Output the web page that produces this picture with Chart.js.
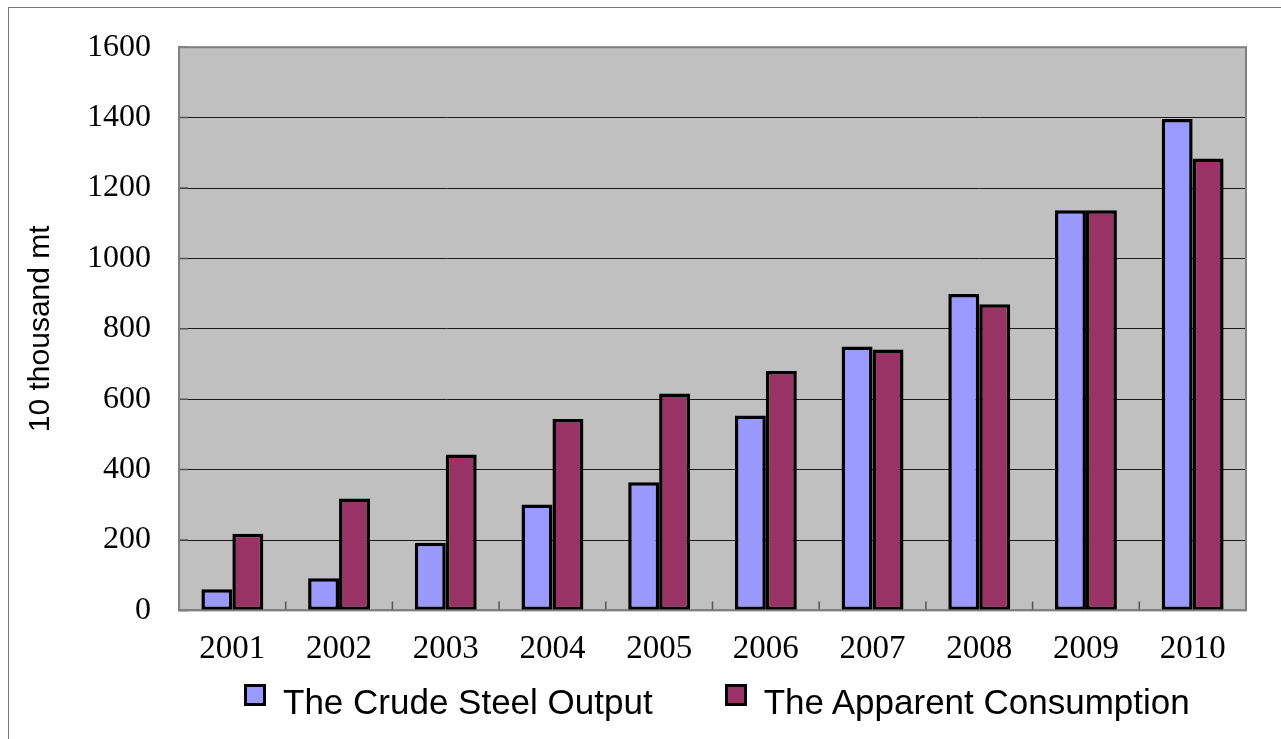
<!DOCTYPE html>
<html>
<head>
<meta charset="utf-8">
<script src="https://cdn.jsdelivr.net/npm/chart.js@4/dist/chart.umd.min.js"></script>
<style>
  body { margin: 0; background: #fff; }
  #wrap { position: relative; width: 1281px; height: 739px; overflow: hidden; }
  #frame { position: absolute; left: 8px; top: 7px; width: 1400px; height: 800px;
           border-left: 1px solid #777; border-top: 1px solid #777; }
  #legend { position: absolute; left: 244px; top: 684px; display: flex;
            font-family: 'Liberation Sans', Arial, sans-serif; font-size: 35px; line-height: 35px; color: #000; }
  .item { display: flex; align-items: flex-start; margin-right: 72px; }
  .box { width: 16px; height: 16px; border: 3px solid #000; margin-right: 17px; margin-top: 0px; }
</style>
</head>
<body>
<div id="wrap">
  <div id="frame"></div>
  <canvas id="steelChart" width="1281" height="739"></canvas>
  <div id="legend"></div>
</div>
<script>
// years on the x axis
const years = ['2001', '2002', '2003', '2004', '2005', '2006', '2007', '2008', '2009', '2010'];

// values in 10 thousand mt
const crudeSteelOutput = [60, 91, 192, 301, 364, 554, 750, 899, 1137, 1396];
const apparentConsumption = [218, 318, 443, 544, 616, 680, 741, 870, 1137, 1284];

const yTicks = [0, 200, 400, 600, 800, 1000, 1200, 1400, 1600];

const serifFont = "'Liberation Serif', 'Times New Roman', serif";
const sansFont = "'Liberation Sans', Arial, sans-serif";

// grey plot background, frame and the small inward tick marks
const plotFrame = {
    id: 'plotFrame',
    beforeDraw(chart) {
        const { ctx, chartArea: a } = chart;
        ctx.save();
        ctx.fillStyle = '#C0C0C0';
        ctx.fillRect(a.left, a.top, a.width, a.height);
        ctx.restore();
    },
    afterDraw(chart) {
        const { ctx, chartArea: a } = chart;
        const x = chart.scales.x;
        const y = chart.scales.y;
        ctx.save();
        ctx.strokeStyle = '#555';
        ctx.lineWidth = 1.5;
        ctx.beginPath();
        for (let i = 1; i < years.length; i++) {
            const bx = (x.getPixelForValue(i - 1) + x.getPixelForValue(i)) / 2;
            ctx.moveTo(bx, a.bottom);
            ctx.lineTo(bx, a.bottom - 9);
        }
        yTicks.forEach(v => {
            const py = y.getPixelForValue(v);
            ctx.moveTo(a.left, py);
            ctx.lineTo(a.left + 9, py);
        });
        ctx.stroke();
        ctx.strokeStyle = '#808080';
        ctx.lineWidth = 2;
        ctx.strokeRect(a.left, a.top, a.width, a.height);
        ctx.restore();
    }
};

const ctx = document.getElementById('steelChart').getContext('2d');
const chart = new Chart(ctx, {
    type: 'bar',
    data: {
        labels: years,
        datasets: [
            {
                label: 'The Crude Steel Output',
                data: crudeSteelOutput,
                backgroundColor: '#9999FF',
                borderColor: '#000',
                borderWidth: 3.5,
                borderSkipped: false,
                categoryPercentage: 0.58,
                barPercentage: 1.0
            },
            {
                label: 'The Apparent Consumption',
                data: apparentConsumption,
                backgroundColor: '#993366',
                borderColor: '#000',
                borderWidth: 3.5,
                borderSkipped: false,
                categoryPercentage: 0.58,
                barPercentage: 1.0
            }
        ]
    },
    options: {
        responsive: false,
        animation: false,
        layout: { padding: { left: 8, top: 47, right: 35, bottom: 59 } },
        plugins: {
            legend: { display: false },
            tooltip: { enabled: false }
        },
        scales: {
            x: {
                grid: { display: false },
                border: { color: '#808080', width: 2 },
                ticks: {
                    color: '#000',
                    padding: 11,
                    font: { family: serifFont, size: 33 }
                }
            },
            y: {
                min: 0,
                max: 1600,
                afterBuildTicks: scale => {
                    scale.ticks = yTicks.map(v => ({ value: v }));
                },
                grid: { color: '#1a1a1a', lineWidth: 1, drawTicks: false },
                border: { color: '#808080', width: 2 },
                ticks: {
                    color: '#000',
                    padding: 28,
                    font: { family: serifFont, size: 32 },
                    callback: value => String(value)
                },
                title: {
                    display: true,
                    text: '10 thousand mt',
                    color: '#000',
                    padding: { top: 15, bottom: 0 },
                    font: { family: sansFont, size: 30 }
                }
            }
        }
    },
    plugins: [plotFrame]
});

// legend built from the datasets
const legendDiv = document.getElementById('legend');
chart.data.datasets.forEach(ds => {
    const item = document.createElement('div');
    item.className = 'item';
    const box = document.createElement('div');
    box.className = 'box';
    box.style.background = ds.backgroundColor;
    const label = document.createElement('span');
    label.textContent = ds.label;
    item.appendChild(box);
    item.appendChild(label);
    legendDiv.appendChild(item);
});
</script>
</body>
</html>
